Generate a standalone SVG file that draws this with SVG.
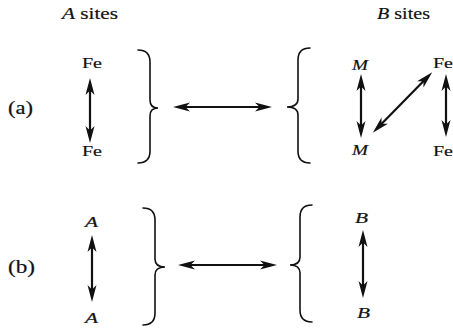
<svg xmlns="http://www.w3.org/2000/svg" width="453" height="329" viewBox="0 0 453 329">
<defs>
<style>
text{font-family:"Liberation Serif","Times New Roman",serif;fill:#111;stroke:#111;stroke-width:0.2;}
.lbl{font-size:17px;}
.it{font-style:italic;}
.arr{stroke:#111;stroke-width:2.2;fill:none;marker-start:url(#ah);marker-end:url(#ah);}
.br{stroke:#111;stroke-width:1.6;fill:none;stroke-linecap:round;}
</style>
<marker id="ah" markerUnits="userSpaceOnUse" markerWidth="18" markerHeight="11" refX="11" refY="5.5" orient="auto-start-reverse" viewBox="0 0 18 11">
<path d="M0,1 L17,5.5 L0,10 L4.5,5.5 z" fill="#111"/>
</marker>
</defs>
<rect width="453" height="329" fill="#fff"/>
<g id="headers">
<text x="62" y="19" class="lbl" textLength="56" lengthAdjust="spacingAndGlyphs"><tspan class="it">A</tspan> sites</text>
<text x="377" y="19" class="lbl" textLength="53" lengthAdjust="spacingAndGlyphs"><tspan class="it">B</tspan> sites</text>
</g>
<g id="label-a"><text x="8" y="114" font-size="18" textLength="25" lengthAdjust="spacingAndGlyphs">(a)</text></g>
<g id="label-b"><text x="8" y="273" font-size="18" textLength="27" lengthAdjust="spacingAndGlyphs">(b)</text></g>
<g id="a-A-Fe-top"><text x="82" y="68" font-size="15.5" textLength="20" lengthAdjust="spacingAndGlyphs">Fe</text></g>
<g id="a-A-Fe-bottom"><text x="82" y="156" font-size="15.5" textLength="20" lengthAdjust="spacingAndGlyphs">Fe</text></g>
<g id="a-B-M-top"><text x="352" y="70" font-size="15.5" class="it" textLength="16" lengthAdjust="spacingAndGlyphs">M</text></g>
<g id="a-B-M-bottom"><text x="352" y="155" font-size="15.5" class="it" textLength="16" lengthAdjust="spacingAndGlyphs">M</text></g>
<g id="a-B-Fe-top"><text x="433" y="68" font-size="15.5" textLength="20" lengthAdjust="spacingAndGlyphs">Fe</text></g>
<g id="a-B-Fe-bottom"><text x="433" y="156" font-size="15.5" textLength="20" lengthAdjust="spacingAndGlyphs">Fe</text></g>
<g id="b-A-top"><text x="85" y="227" font-size="15.5" class="it" textLength="13" lengthAdjust="spacingAndGlyphs">A</text></g>
<g id="b-A-bottom"><text x="85" y="323" font-size="15.5" class="it" textLength="13" lengthAdjust="spacingAndGlyphs">A</text></g>
<g id="b-B-top"><text x="355" y="223" font-size="15.5" class="it" textLength="13" lengthAdjust="spacingAndGlyphs">B</text></g>
<g id="b-B-bottom"><text x="357" y="318" font-size="15.5" class="it" textLength="13" lengthAdjust="spacingAndGlyphs">B</text></g>
<g id="braces">
<path class="br" d="M138,50 Q150,50 150,62 L150,100 Q150,108 158,108 Q150,108 150,116 L150,151 Q150,163 138,163"/>
<path class="br" d="M310,48 Q298,48 298,60 L298,99 Q298,107 287,107 Q298,107 298,115 L298,151 Q298,163 310,163"/>
<path class="br" d="M143,208 Q155,208 155,220 L155,259 Q155,267 165,267 Q155,267 155,275 L155,313 Q155,325 143,325"/>
<path class="br" d="M312,205 Q300,205 300,217 L300,257 Q300,265 290,265 Q300,265 300,273 L300,310 Q300,322 312,322"/>
</g>
<g id="connectors">
<line class="arr" x1="90" y1="84" x2="90" y2="137"/>
<line class="arr" x1="179" y1="107" x2="266" y2="107"/>
<line class="arr" x1="361" y1="80" x2="361" y2="132"/>
<line class="arr" x1="377" y1="128.4" x2="428" y2="76.6"/>
<line class="arr" x1="446" y1="80" x2="446" y2="131"/>
<line class="arr" x1="92" y1="241" x2="92" y2="296"/>
<line class="arr" x1="184" y1="265" x2="271" y2="265"/>
<line class="arr" x1="363" y1="236" x2="363" y2="292"/>
</g>
</svg>
